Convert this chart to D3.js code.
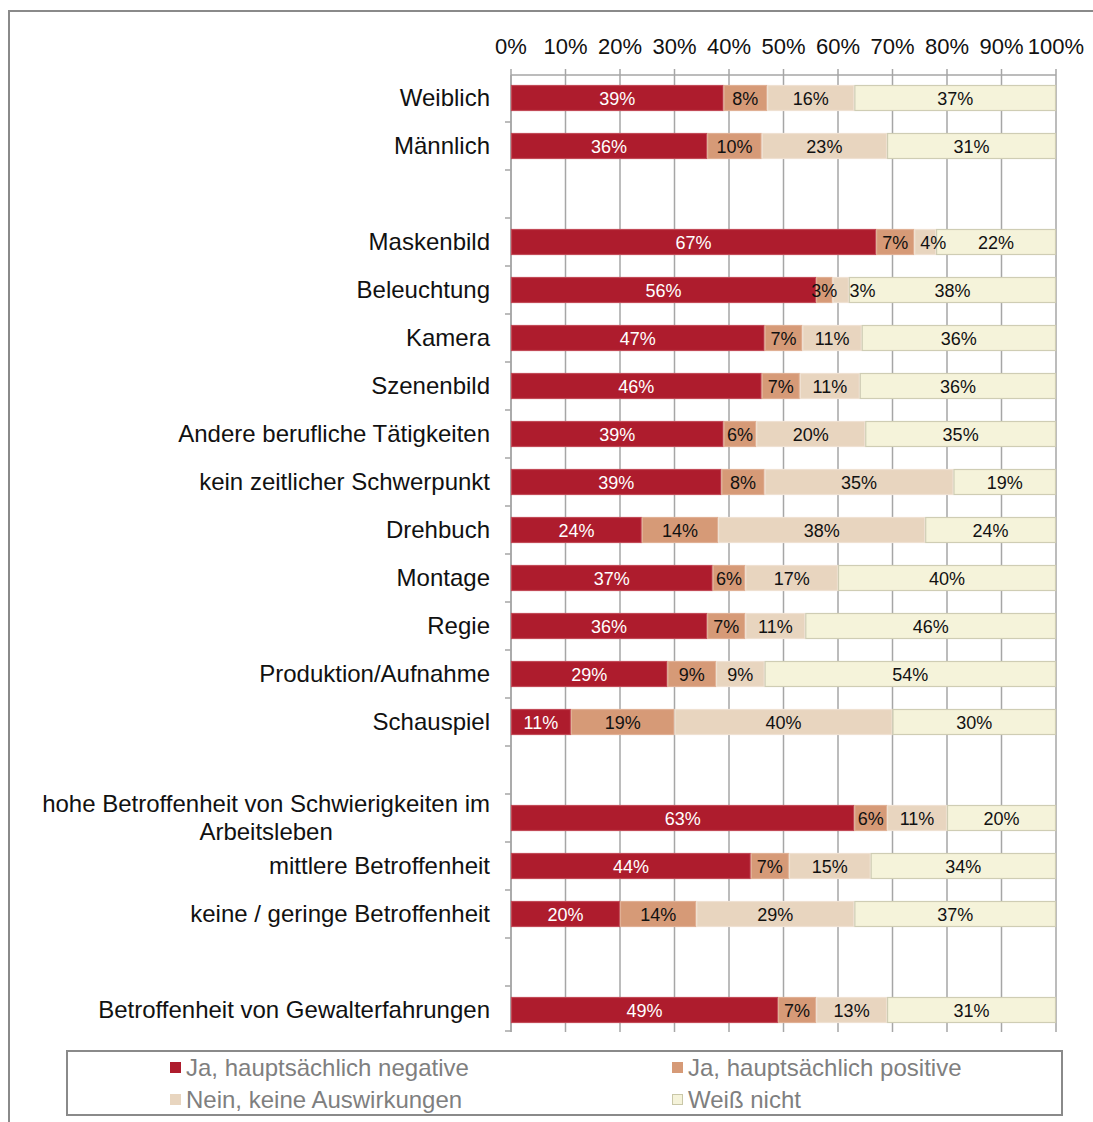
<!DOCTYPE html>
<html><head><meta charset="utf-8">
<script src="https://cdn.jsdelivr.net/npm/d3@7"></script>
<style>
html,body{margin:0;padding:0;background:#fff;}
svg{display:block;font-family:"Liberation Sans",Arial,sans-serif;}
</style></head>
<body>
<svg id="chart" width="1093" height="1122"></svg>
<script>
const categories = ["Weiblich","Männlich","","Maskenbild","Beleuchtung","Kamera","Szenenbild","Andere berufliche Tätigkeiten","kein zeitlicher Schwerpunkt","Drehbuch","Montage","Regie","Produktion/Aufnahme","Schauspiel","","hohe Betroffenheit von Schwierigkeiten im|Arbeitsleben","mittlere Betroffenheit","keine / geringe Betroffenheit","","Betroffenheit von Gewalterfahrungen"];
const negative = [39,36,null,67,56,47,46,39,39,24,37,36,29,11,null,63,44,20,null,49];
const positive = [8,10,null,7,3,7,7,6,8,14,6,7,9,19,null,6,7,14,null,7];
const noEffect = [16,23,null,4,3,11,11,20,35,38,17,11,9,40,null,11,15,29,null,13];
const dontKnow = [37,31,null,22,38,36,36,35,19,24,40,46,54,30,null,20,34,37,null,31];
const seriesNames = ["Ja, hauptsächlich negative","Ja, hauptsächlich positive","Nein, keine Auswirkungen","Weiß nicht"];
const tickValues = [0,0.1,0.2,0.3,0.4,0.5,0.6,0.7,0.8,0.9,1];

const colors = ["#AE1C2D","#D69A77","#E8D5BF","#F5F3DA"];
const strokes = ["#C24A57","#E0B094","#EFE1D2","#CFCDB4"];
const labelColors = ["#ffffff","#111111","#111111","#111111"];

const svg = d3.select("#chart");
const allSeries = [negative, positive, noEffect, dontKnow];

const rows = categories.map((c,i)=>({idx:i, label:c, vals: allSeries.map(s=>s[i])}));

const x = d3.scaleLinear().domain([0,1]).range([511,1056]);
const y = d3.scaleBand().domain(rows.map(r=>r.idx)).range([74,1034]).paddingInner(22/48).paddingOuter(11/48);

// outer frame
svg.append("line").attr("x1",9).attr("x2",1093).attr("y1",11).attr("y2",11).attr("stroke","#8a8a8a").attr("stroke-width",2);
svg.append("line").attr("x1",9).attr("x2",9).attr("y1",10).attr("y2",1122).attr("stroke","#8a8a8a").attr("stroke-width",2);

// gridlines
const gridTop = 69, gridBottom = 1032;
svg.append("g").selectAll("line").data(tickValues).join("line")
  .attr("x1",d=>x(d)).attr("x2",d=>x(d)).attr("y1",gridTop).attr("y2",gridBottom)
  .attr("stroke","#a6a6a6").attr("stroke-width",1.5);
// top axis line
svg.append("line").attr("x1",x(0)).attr("x2",x(1)).attr("y1",75).attr("y2",75).attr("stroke","#a6a6a6").attr("stroke-width",1.5);
// tick labels
svg.append("g").selectAll("text").data(tickValues).join("text")
  .attr("x",d=>x(d)).attr("y",54).attr("text-anchor","middle")
  .attr("font-size",22).attr("fill","#111")
  .text(d=>d3.format(".0%")(d));

// left axis
svg.append("line").attr("x1",x(0)).attr("x2",x(0)).attr("y1",75).attr("y2",gridBottom).attr("stroke","#a6a6a6").attr("stroke-width",1.5);
const step = y.step();
const boundaries = d3.range(1, categories.length+1).map(k=>y.range()[0]+k*step);
svg.append("g").selectAll("line").data(boundaries).join("line")
  .attr("x1",x(0)-6).attr("x2",x(0)).attr("y1",d=>Math.min(d,gridBottom-1)).attr("y2",d=>Math.min(d,gridBottom-1))
  .attr("stroke","#a6a6a6").attr("stroke-width",1.5);

// bars
const dataRows = rows.filter(r=>r.vals[0]!=null);
dataRows.forEach(r=>{
  const total = d3.sum(r.vals);
  let acc = 0;
  r.segs = r.vals.map((v,k)=>{ const s={k, v, x0:acc/total, x1:(acc+v)/total}; acc+=v; return s; });
});
const barG = svg.append("g");
dataRows.forEach(r=>{
  const g = barG.append("g");
  g.selectAll("rect").data(r.segs).join("rect")
    .attr("x",d=>x(d.x0)+0.5).attr("width",d=>Math.max(0,x(d.x1)-x(d.x0)-1))
    .attr("y",y(r.idx)+0.5).attr("height",y.bandwidth()-1)
    .attr("fill",d=>colors[d.k]).attr("stroke",d=>strokes[d.k]).attr("stroke-width",1.2);
  const texts = g.selectAll("text").data(r.segs).join("text")
    .attr("x",d=>(x(d.x0)+x(d.x1))/2).attr("y",y(r.idx)+y.bandwidth()/2+6.5)
    .attr("text-anchor","middle").attr("font-size",18).attr("fill",d=>labelColors[d.k])
    .text(d=>d.v+"%");
  // avoid overlapping labels: shift right if needed
  let prevRight = -Infinity;
  texts.each(function(d){
    const w = this.getComputedTextLength();
    let cx = +this.getAttribute("x");
    if(cx - w/2 < prevRight + 12 && prevRight > -Infinity && (x(d.x1)-x(d.x0)) < w + 4){
      cx = prevRight + 12 + w/2;
      this.setAttribute("x", cx);
    }
    prevRight = cx + w/2;
  });
});

// category labels
const labG = svg.append("g");
rows.filter(r=>r.label).forEach(r=>{
  const lines = r.label.split("|");
  const cy = y(r.idx)+y.bandwidth()/2;
  if(lines.length===1){
    labG.append("text").attr("x",490).attr("y",cy+8).attr("text-anchor","end")
      .attr("font-size",24).attr("fill","#111").text(lines[0]);
  } else {
    const t = labG.append("text").attr("font-size",24).attr("fill","#111").attr("text-anchor","middle");
    const spans = lines.map((ln,j)=>t.append("tspan").attr("y",cy-14+8+j*28).text(ln));
    const w1 = d3.max(spans, s=>s.node().getComputedTextLength());
    spans.forEach(s=>s.attr("x",490 - w1/2));
  }
});

// legend
svg.append("rect").attr("x",67).attr("y",1051).attr("width",995).attr("height",64)
  .attr("fill","none").attr("stroke","#8a8a8a").attr("stroke-width",2);
const legPos = [[170,1068],[672,1068],[170,1100],[672,1100]];
const lg = svg.append("g").selectAll("g").data(seriesNames).join("g")
  .attr("transform",(d,i)=>`translate(${legPos[i][0]},${legPos[i][1]})`);
lg.append("rect").attr("x",0.5).attr("y",-5.5).attr("width",10).attr("height",10)
  .attr("fill",(d,i)=>colors[i]).attr("stroke",(d,i)=>i===3?"#C9C7A8":colors[i]).attr("stroke-width",1);
lg.append("text").attr("x",16).attr("y",8).attr("font-size",24).attr("fill","#7f7f7f").text(d=>d);
</script>
</body></html>
